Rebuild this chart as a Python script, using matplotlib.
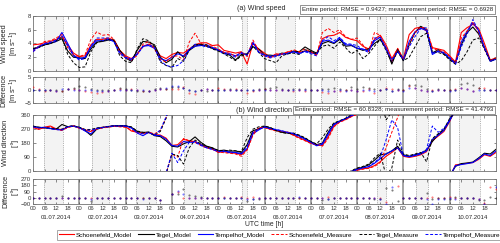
import numpy as np
import matplotlib
matplotlib.use('Agg')
import matplotlib.pyplot as plt
from matplotlib.lines import Line2D
from matplotlib.transforms import blended_transform_factory

plt.rcParams['font.family'] = ['Liberation Sans', 'DejaVu Sans']

# ---------------- data ----------------
hours = np.arange(0, 241, 3)  # UTC hours from 01.07.2014 00:00
day_labels = ['01.07.2014', '02.07.2014', '03.07.2014', '04.07.2014', '05.07.2014',
              '06.07.2014', '07.07.2014', '08.07.2014', '09.07.2014', '10.07.2014']
# measurement periods (start, end hour within each day)
meas_start = [5.7, 6.6, 5.4, 6.3, 12.2, 5.3, 5.3, 10.3, 6.5, 4.8]
meas_end = [15.6, 15.5, 15.8, 16.0, 14.9, 16.0, 13.6, 15.0, 12.8, 15.7]

# wind speed [m/s]
ws_sch_mod = [3.8, 3.9, 4.1, 4.3, 4.6, 5.0, 3.8, 2.6, 2.1, 2.2, 3.8, 4.6, 4.6, 4.8, 4.5, 3.0,
              2.2, 1.8, 2.5, 3.6, 3.9, 3.4, 2.2, 1.8, 2.4, 2.7, 2.6, 3.2, 3.8, 4.1, 4.1, 3.7,
              3.8, 3.0, 2.8, 2.6, 2.8, 1.0, 4.0, 3.2, 2.6, 2.0, 2.5, 2.4, 2.8, 2.8, 2.7, 2.9,
              2.8, 2.4, 4.7, 5.1, 5.2, 5.6, 4.9, 4.6, 4.4, 3.6, 3.2, 4.6, 5.2, 3.8, 1.8, 3.2,
              1.8, 5.3, 6.2, 6.4, 5.8, 3.4, 3.2, 3.0, 2.2, 1.3, 5.6, 6.3, 6.8, 6.2, 4.0, 1.6, 1.9]
ws_teg_mod = [3.2, 3.5, 3.8, 4.0, 4.3, 4.7, 2.9, 2.0, 1.9, 1.8, 3.2, 4.2, 4.3, 4.5, 4.5, 3.0,
              1.9, 1.4, 3.0, 4.3, 4.2, 3.8, 2.0, 1.2, 1.7, 2.8, 2.0, 3.0, 3.6, 3.9, 3.6, 3.3,
              3.0, 2.6, 2.3, 1.6, 2.4, 2.5, 3.5, 3.2, 2.3, 2.3, 2.2, 2.6, 2.5, 2.9, 2.8, 3.5,
              3.0, 2.6, 4.0, 4.3, 4.0, 4.6, 3.6, 3.7, 3.3, 3.0, 3.2, 4.0, 4.6, 3.3, 1.0, 3.2,
              1.5, 3.8, 5.6, 6.5, 6.0, 2.6, 3.1, 2.5, 1.8, 1.2, 3.8, 5.6, 6.4, 5.4, 3.4, 1.5, 1.8]
ws_tem_mod = [3.0, 3.6, 3.9, 4.1, 4.3, 5.6, 4.0, 2.3, 1.8, 2.0, 3.5, 4.4, 4.4, 4.6, 4.3, 2.7,
              2.0, 1.7, 2.5, 3.6, 3.7, 3.3, 1.8, 1.5, 2.0, 2.5, 2.2, 3.1, 3.6, 3.7, 3.8, 3.4,
              3.1, 2.7, 2.5, 2.2, 2.7, 2.3, 4.2, 2.8, 2.3, 2.1, 2.3, 2.5, 2.5, 2.8, 2.5, 2.9,
              2.7, 2.4, 4.3, 4.5, 4.1, 4.8, 3.8, 3.8, 3.3, 3.2, 2.9, 4.4, 4.9, 3.4, 1.4, 2.9,
              1.6, 4.3, 5.7, 6.2, 5.9, 2.4, 2.9, 2.7, 1.8, 1.0, 4.2, 5.8, 7.0, 5.9, 3.4, 1.4, 1.7]
ws_sch_mea = [2.8, 3.6, 4.3, 4.4, 4.8, 5.3, 3.4, 2.3, 2.1, 2.4, 4.6, 5.7, 5.2, 5.3, 4.6, 2.6,
              2.0, 1.5, 2.3, 3.9, 4.3, 3.2, 1.7, 1.3, 2.1, 2.2, 1.6, 4.2, 5.5, 4.0, 3.7, 3.6,
              3.2, 2.7, 2.6, 2.1, 2.8, 2.1, 4.5, 3.0, 2.2, 1.9, 2.3, 2.5, 2.7, 3.1, 2.8, 3.2,
              2.8, 2.3, 5.6, 6.2, 5.6, 6.0, 5.0, 4.6, 4.8, 3.8, 2.8, 5.6, 5.2, 3.2, 1.4, 3.3,
              1.7, 3.8, 5.6, 6.4, 6.2, 3.3, 3.0, 2.8, 2.1, 1.0, 4.8, 5.8, 7.2, 5.6, 3.2, 1.5, 1.8]
ws_teg_mea = [3.3, 3.4, 3.8, 4.0, 4.4, 4.9, 2.4, 1.2, 0.5, 0.6, 2.8, 4.1, 4.4, 4.6, 4.4, 2.2,
              1.4, 1.2, 3.2, 4.7, 4.4, 3.5, 1.3, 0.8, 0.5, 1.8, 1.4, 3.0, 3.9, 3.8, 3.8, 3.2,
              2.9, 2.5, 2.0, 1.5, 2.2, 2.4, 3.6, 2.7, 1.8, 1.5, 1.2, 2.2, 2.5, 2.6, 2.4, 3.1,
              2.8, 2.5, 3.6, 3.8, 3.3, 4.2, 3.4, 2.5, 3.0, 1.8, 2.5, 3.6, 4.6, 3.0, 1.2, 2.8,
              1.5, 2.0, 3.5, 5.0, 5.5, 2.8, 2.7, 2.4, 1.6, 1.0, 1.5, 2.8, 4.5, 4.8, 3.2, 1.4, 1.7]
ws_tem_mea = [2.8, 3.5, 4.0, 4.2, 4.5, 5.1, 3.6, 2.2, 1.6, 1.8, 3.6, 4.8, 4.8, 4.8, 4.2, 2.5,
              1.9, 1.6, 2.4, 3.5, 3.9, 3.4, 1.5, 0.8, 0.6, 0.8, 1.5, 3.1, 3.9, 3.7, 3.5, 3.4,
              3.0, 2.5, 2.4, 2.0, 2.6, 2.3, 4.0, 2.7, 2.2, 1.9, 2.1, 2.4, 2.6, 2.8, 2.6, 2.8,
              2.5, 2.2, 4.4, 5.0, 4.4, 4.9, 4.0, 3.9, 3.7, 3.1, 2.7, 4.8, 4.9, 3.1, 1.6, 2.8,
              1.8, 3.5, 5.0, 6.2, 6.3, 2.7, 2.8, 2.6, 2.0, 1.0, 3.5, 5.3, 7.5, 5.8, 3.3, 1.5, 1.7]

# wind direction [deg]
wd_sch_mod = [282, 268, 283, 290, 272, 266, 283, 292, 278, 262, 255, 272, 282, 285, 292, 288,
              286, 258, 250, 242, 248, 235, 232, 212, 165, 170, 205, 195, 190, 170, 155, 145,
              120, 125, 118, 115, 105, 140, 245, 275, 282, 270, 262, 252, 248, 232, 215, 198,
              180, 168, 165, 220, 290, 318, 332, 352, 8, 15, 20, 35, 60, 95, 120, 150,
              95, 88, 95, 105, 125, 195, 225, 255, 320, 40, 45, 50, 55, 75, 105, 95, 120]
wd_teg_mod = [288, 282, 278, 274, 270, 300, 286, 288, 282, 262, 230, 270, 280, 285, 290, 292,
              292, 282, 255, 248, 252, 228, 222, 195, 160, 155, 175, 190, 220, 185, 160, 150,
              130, 135, 128, 130, 120, 170, 260, 272, 288, 278, 262, 250, 245, 238, 228, 210,
              190, 170, 180, 250, 305, 322, 338, 358, 15, 25, 40, 70, 105, 110, 130, 160,
              105, 95, 105, 115, 135, 190, 235, 265, 330, 30, 48, 52, 58, 85, 115, 110, 140]
wd_tem_mod = [286, 280, 282, 275, 268, 264, 285, 290, 280, 258, 240, 275, 280, 286, 292, 290,
              292, 278, 245, 228, 250, 230, 228, 205, 165, 160, 190, 185, 190, 170, 150, 140,
              125, 130, 122, 120, 112, 145, 240, 265, 285, 272, 266, 258, 250, 242, 226, 206,
              185, 163, 172, 235, 298, 320, 336, 356, 10, 20, 28, 50, 80, 110, 130, 150,
              100, 92, 100, 110, 130, 205, 230, 262, 325, 35, 42, 48, 55, 80, 110, 100, 130]
wd_sch_mea = [280, 275, 278, 288, 268, 262, 280, 290, 276, 268, 260, 270, 278, 282, 288, 285,
              282, 265, 248, 245, 250, 240, 262, 345, 110, 90, 210, 195, 185, 165, 150, 140,
              125, 118, 115, 110, 95, 135, 230, 280, 280, 268, 258, 255, 252, 230, 210, 195,
              178, 172, 160, 210, 285, 315, 330, 350, 5, 12, 18, 30, 55, 150, 250, 345,
              90, 85, 95, 105, 120, 185, 220, 250, 310, 45, 40, 45, 52, 95, 180, 300, 355]
wd_teg_mea = [290, 282, 280, 276, 272, 270, 288, 292, 282, 268, 268, 278, 282, 288, 292, 292,
              290, 285, 258, 250, 248, 232, 255, 340, 110, 100, 45, 150, 200, 175, 160, 148,
              135, 130, 135, 130, 125, 215, 270, 285, 290, 282, 260, 248, 242, 245, 232, 215,
              190, 175, 215, 270, 310, 325, 340, 2, 20, 30, 45, 85, 115, 330, 20, 200,
              110, 100, 110, 120, 60, 210, 240, 270, 340, 20, 45, 55, 60, 120, 150, 100, 145]
wd_tem_mea = [284, 278, 280, 272, 268, 265, 286, 290, 278, 265, 262, 274, 280, 286, 290, 290,
              288, 278, 248, 240, 248, 232, 265, 350, 115, 55, 130, 185, 185, 165, 150, 140,
              128, 125, 120, 118, 110, 160, 250, 270, 283, 275, 268, 260, 248, 240, 220, 205,
              185, 165, 178, 245, 302, 322, 338, 358, 12, 22, 30, 55, 90, 200, 330, 280,
              100, 95, 105, 115, 140, 290, 250, 275, 330, 50, 40, 48, 55, 90, 200, 260, 340]

names = ['Schoenefeld', 'Tegel', 'Tempelhof']
colors = ['#ff0000', '#000000', '#0000ff']
ws_mod = [ws_sch_mod, ws_teg_mod, ws_tem_mod]
ws_mea = [ws_sch_mea, ws_teg_mea, ws_tem_mea]
wd_mod = [wd_sch_mod, wd_teg_mod, wd_tem_mod]
wd_mea = [wd_sch_mea, wd_teg_mea, wd_tem_mea]

rmse_a = 'Entire period: RMSE = 0.9427; measurement period: RMSE = 0.6928'
rmse_b = 'Entire period: RMSE = 60.8328; measurement period: RMSE = 41.4793'

# ---------------- figure ----------------
fig = plt.figure(figsize=(5.0, 2.43), dpi=100)
L, W = 0.066, 0.926
axA = fig.add_axes([L, 0.708, W, 0.226])
axAd = fig.add_axes([L, 0.576, W, 0.107])
axB = fig.add_axes([L, 0.296, W, 0.230])
axBd = fig.add_axes([L, 0.160, W, 0.103])
axes = [axA, axAd, axB, axBd]

FS = 4.3
TC = '0.15'
for ax in axes:
    for d in range(10):
        s, e = 24 * d + meas_start[d], 24 * d + meas_end[d]
        ax.axvspan(s, e, color='#f3f3f3', lw=0, zorder=0)
        ax.axvline(s, color='0.6', lw=0.6, ls=(0, (1, 1.2)), zorder=0.5)
        ax.axvline(e, color='0.6', lw=0.6, ls=(0, (1, 1.2)), zorder=0.5)
        if d > 0:
            ax.axvline(24 * d, color='0.55', lw=1.1, zorder=0.6)
    ax.set_xlim(0, 240)
    ax.set_xticks(np.arange(0, 240, 6))
    ax.tick_params(direction='in', length=1.8, width=0.4, top=True, right=True,
                   labelsize=FS, pad=1.5, colors='0.2')
    for sp in ax.spines.values():
        sp.set_color('0.45')
        sp.set_linewidth(0.6)
    if ax is not axBd:
        ax.set_xticklabels([])

axBd.set_xticklabels(['%02d' % (h % 24) for h in np.arange(0, 240, 6)])
trans = blended_transform_factory(axBd.transData, axBd.transAxes)
for d, lab in enumerate(day_labels):
    axBd.text(24 * d + 12, -0.52, lab, transform=trans, ha='center', va='center',
              fontsize=FS, color=TC)
fig.text(0.528, 1 - 224 / 243, 'UTC time [h]', ha='center', va='center', fontsize=4.9, color=TC)

hrs = np.asarray(hours)

# wind speed
for i in range(3):
    axA.plot(hrs, ws_mod[i], color=colors[i], lw=0.8, zorder=3)
for i in range(3):
    axA.plot(hrs, ws_mea[i], color=colors[i], lw=0.7, ls=(0, (3, 1.8)), zorder=3)
axA.set_ylim(0, 8)
axA.set_yticks([0, 2, 4, 6, 8])

for i in range(3):
    diff = np.asarray(ws_mod[i]) - np.asarray(ws_mea[i])
    axAd.plot(hrs, diff, ls='none', marker='.', ms=1.0, color=colors[i], alpha=0.55, zorder=3)
axAd.set_ylim(-5, 5)
axAd.set_yticks([-5, 0, 5])


# wind direction (wrap-around drawn through 360/0)
def plot_dir(ax, y, **kw):
    yu = np.rad2deg(np.unwrap(np.deg2rad(np.asarray(y, float))))
    for k in (-720, -360, 0, 360, 720):
        ax.plot(hrs, yu + k, **kw)


for i in range(3):
    plot_dir(axB, wd_mod[i], color=colors[i], lw=0.8, zorder=3)
for i in range(3):
    plot_dir(axB, wd_mea[i], color=colors[i], lw=0.7, ls=(0, (3, 1.8)), zorder=3)
axB.set_ylim(0, 360)
axB.set_yticks([0, 90, 180, 270, 360])

for i in range(3):
    diff = (np.asarray(wd_mod[i]) - np.asarray(wd_mea[i]) + 180) % 360 - 180
    axBd.plot(hrs, diff, ls='none', marker='.', ms=1.0, color=colors[i], alpha=0.55, zorder=3)
axBd.set_ylim(-90, 270)
axBd.set_yticks([-90, 0, 90, 180, 270])

# labels
YL = 5.3
axA.set_ylabel('Wind speed\n[m s$^{-1}$]', fontsize=YL, linespacing=1.0, color=TC)
axAd.set_ylabel('Difference\n[m s$^{-1}$]', fontsize=YL, linespacing=1.0, color=TC)
axB.set_ylabel('Wind direction\n[$\\degree$]', fontsize=YL, linespacing=1.0, color=TC)
axBd.set_ylabel('Difference\n[$\\degree$]', fontsize=YL, linespacing=1.0, color=TC)
for ax in axes:
    ax.yaxis.set_label_coords(-0.026, 0.5)

fig.text(0.522, 1 - 9 / 243, '(a) Wind speed', ha='center', va='center', fontsize=5.1, color=TC)
fig.text(0.529, 1 - 110 / 243, '(b) Wind direction', ha='center', va='center', fontsize=5.1, color=TC)
box = dict(boxstyle='square,pad=0.3', fc='white', ec='0.5', lw=0.6)
fig.text(0.986, 1 - 9.5 / 243, rmse_a, ha='right', va='center', fontsize=4.5, color=TC, bbox=box)
fig.text(0.986, 1 - 110 / 243, rmse_b, ha='right', va='center', fontsize=4.5, color=TC, bbox=box)

# legend
handles, labels = [], []
for i in range(3):
    handles.append(Line2D([], [], color=colors[i], lw=0.8))
    labels.append(names[i] + '_Model')
for i in range(3):
    handles.append(Line2D([], [], color=colors[i], lw=0.7, ls=(0, (3, 1.8))))
    labels.append(names[i] + '_Measure')
leg = fig.legend(handles, labels, ncol=6, loc='center', bbox_to_anchor=(0.559, 0.033),
                 fontsize=4.6, handlelength=2.4, columnspacing=1.0, handletextpad=0.3,
                 frameon=True, fancybox=False, edgecolor='0.5', borderpad=0.3)
leg.get_frame().set_linewidth(0.6)

fig.savefig('out.png', dpi=100)
